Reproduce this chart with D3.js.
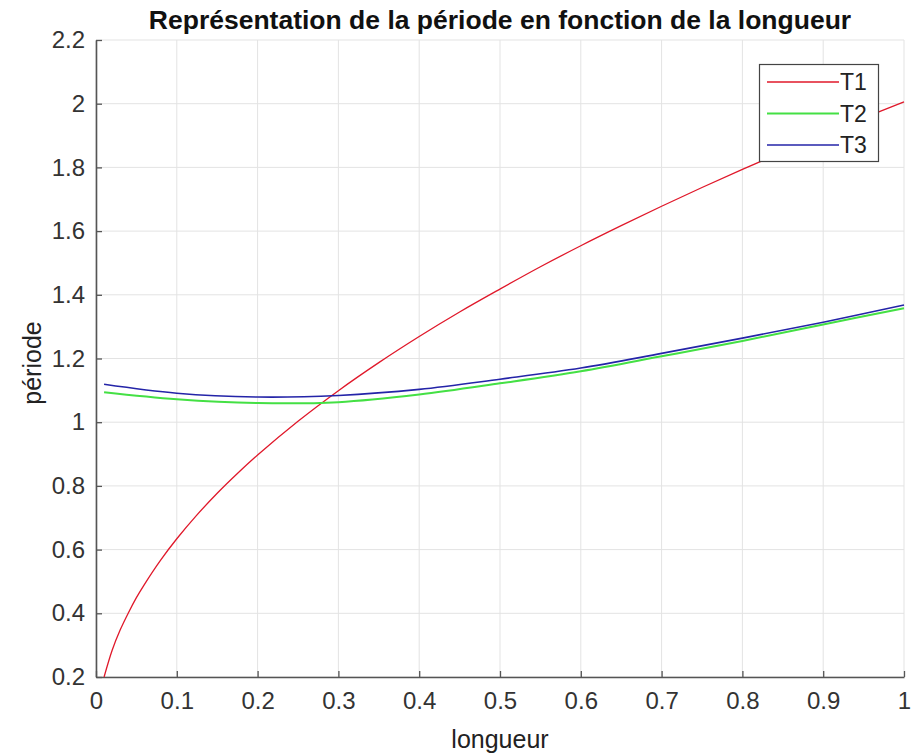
<!DOCTYPE html>
<html><head><meta charset="utf-8">
<script src="https://cdn.jsdelivr.net/npm/d3@7"></script>
<style>body{margin:0;background:#fff}text{font-family:"Liberation Sans",Arial,Helvetica,sans-serif}</style>
</head><body><svg id="c" width="918" height="754"></svg>
<script>
// Data
const xT1 = [0.01,0.02,0.03,0.04,0.05,0.06,0.08,0.1,0.125,0.15,0.175,0.2,0.25,0.3,0.35,0.4,0.45,0.5,0.55,0.6,0.65,0.7,0.75,0.8,0.85,0.9,0.95,1.0];
const T1  = [0.20,0.284,0.348,0.401,0.449,0.491,0.567,0.634,0.709,0.777,0.839,0.897,1.003,1.099,1.187,1.269,1.346,1.418,1.488,1.554,1.617,1.678,1.737,1.794,1.849,1.903,1.955,2.006];
const xT23 = [0.01,0.1,0.2,0.3,0.4,0.5,0.6,0.7,0.8,0.9,1.0];
const T2  = [1.094,1.072,1.060,1.063,1.087,1.122,1.160,1.207,1.255,1.307,1.358];
const T3  = [1.119,1.091,1.079,1.084,1.103,1.135,1.170,1.216,1.264,1.314,1.368];
const xTicks = [0,0.1,0.2,0.3,0.4,0.5,0.6,0.7,0.8,0.9,1];
const yTicks = [0.2,0.4,0.6,0.8,1,1.2,1.4,1.6,1.8,2,2.2];
const seriesNames = ["T1","T2","T3"];
const seriesColors = ["#e0182a","#44e044","#2424a8"];

const L=96,R=904,T=40,B=677;
const svg=d3.select("#c");
const x=d3.scaleLinear().domain([0,1]).range([L,R]);
const y=d3.scaleLinear().domain([0.2,2.2]).range([B,T]);

// grid
const g=svg.append("g");
g.selectAll(".vx").data(xTicks).enter().append("line")
 .attr("x1",d=>x(d)).attr("x2",d=>x(d)).attr("y1",T).attr("y2",B)
 .attr("stroke","#e3e3e3").attr("stroke-width",1);
g.selectAll(".hy").data(yTicks).enter().append("line")
 .attr("y1",d=>y(d)).attr("y2",d=>y(d)).attr("x1",L).attr("x2",R)
 .attr("stroke","#e3e3e3").attr("stroke-width",1);

// axes
const fmt=d=>String(d);
const xa=svg.append("g").attr("transform",`translate(0,${B})`)
 .call(d3.axisBottom(x).tickValues(xTicks).tickFormat(fmt).tickSizeInner(-6).tickSizeOuter(0).tickPadding(15));
const ya=svg.append("g").attr("transform",`translate(${L},0)`)
 .call(d3.axisLeft(y).tickValues(yTicks).tickFormat(fmt).tickSizeInner(-6).tickSizeOuter(0).tickPadding(11));
[xa,ya].forEach(a=>{
 a.select(".domain").attr("stroke","#555").attr("stroke-width",1.6);
 a.selectAll(".tick line").attr("stroke","#555").attr("stroke-width",1.3);
 a.selectAll(".tick text").attr("fill","#333").style("font-size","24px");
});

// lines
const line=d3.line().x(d=>x(d[0])).y(d=>y(d[1])).curve(d3.curveCatmullRom.alpha(0.5));
const data=[xT1.map((v,i)=>[v,T1[i]]), xT23.map((v,i)=>[v,T2[i]]), xT23.map((v,i)=>[v,T3[i]])];
const widths=[1.3,2,1.6];
data.forEach((d,i)=>svg.append("path").datum(d).attr("d",line)
 .attr("fill","none").attr("stroke",seriesColors[i]).attr("stroke-width",widths[i]));

// title & labels
svg.append("text").attr("x",500).attr("y",29).attr("text-anchor","middle")
 .style("font-size","26.5px").style("font-weight","bold").attr("fill","#111")
 .text("Représentation de la période en fonction de la longueur");
svg.append("text").attr("x",500).attr("y",748).attr("text-anchor","middle")
 .style("font-size","25px").attr("fill","#222").text("longueur");
svg.append("text").attr("transform","translate(41,363) rotate(-90)").attr("text-anchor","middle")
 .style("font-size","25px").attr("fill","#222").text("période");

// legend
const lg=svg.append("g");
lg.append("rect").attr("x",759.5).attr("y",64.5).attr("width",119).attr("height",97)
 .attr("fill","#fff").attr("stroke","#444").attr("stroke-width",1.2);
seriesNames.forEach((n,i)=>{
 const yy=82+i*31.5;
 lg.append("line").attr("x1",767).attr("x2",839).attr("y1",yy).attr("y2",yy)
  .attr("stroke",seriesColors[i]).attr("stroke-width",widths[i]);
 lg.append("text").attr("x",840).attr("y",yy+8).style("font-size","23px").attr("fill","#222").text(n);
});
</script></body></html>
